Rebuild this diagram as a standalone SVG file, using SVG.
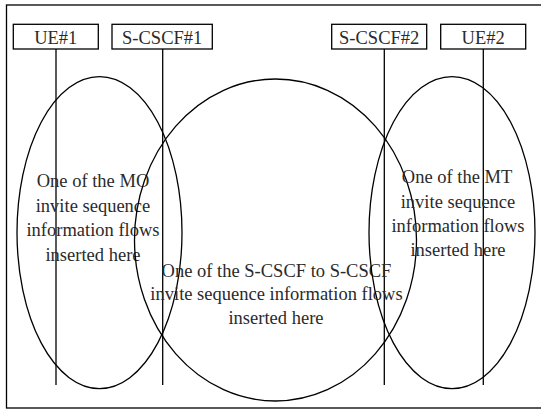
<svg xmlns="http://www.w3.org/2000/svg" width="541" height="409" viewBox="0 0 541 409">
<style>
.box{fill:#fff;stroke:#000;stroke-width:1.3}
.life{stroke:#000;stroke-width:1.3;fill:none}
.ell{fill:none;stroke:#000;stroke-width:1.3}
text{font-family:"Liberation Serif","Times New Roman",serif;font-size:18.5px;fill:#2a2a2a;text-anchor:middle}
</style>
<rect x="0" y="0" width="541" height="409" fill="#fff"/>
<rect x="6.5" y="5" width="540" height="403" fill="none" stroke="#000" stroke-width="1.3"/>
<g id="connectors">
<line class="life" x1="56" y1="49" x2="56" y2="385"/>
<line class="life" x1="162.7" y1="49" x2="162.7" y2="385"/>
<line class="life" x1="384.3" y1="49" x2="384.3" y2="385"/>
<line class="life" x1="483.3" y1="49" x2="483.3" y2="385"/>
</g>
<g id="ue1">
<rect class="box" x="13.3" y="24.3" width="85" height="24.7"/>
<text x="55.8" y="44">UE#1</text>
</g>
<g id="scscf1">
<rect class="box" x="112" y="24.3" width="100.3" height="24.7"/>
<text x="162.2" y="44">S-CSCF#1</text>
</g>
<g id="scscf2">
<rect class="box" x="331.7" y="24.3" width="95" height="24.7"/>
<text x="379.2" y="44">S-CSCF#2</text>
</g>
<g id="ue2">
<rect class="box" x="440.7" y="24.3" width="85" height="24.7"/>
<text x="483.2" y="44">UE#2</text>
</g>
<g id="mo">
<ellipse class="ell" cx="99.5" cy="232.6" rx="82.5" ry="156"/>
<text x="93" y="187">One of the MO</text>
<text x="93" y="211.5">invite sequence</text>
<text x="93" y="236">information flows</text>
<text x="93" y="260.5">inserted here</text>
</g>
<g id="s2s">
<ellipse class="ell" cx="275.5" cy="240" rx="141" ry="161"/>
<text x="276.5" y="276.5">One of the S-CSCF to S-CSCF</text>
<text x="276.5" y="300">invite sequence information flows</text>
<text x="276" y="324">inserted here</text>
</g>
<g id="mt">
<ellipse class="ell" cx="452" cy="232.6" rx="83" ry="156"/>
<text x="457" y="183">One of the MT</text>
<text x="458" y="207.5">invite sequence</text>
<text x="458" y="232">information flows</text>
<text x="458" y="256">inserted here</text>
</g>
</svg>
